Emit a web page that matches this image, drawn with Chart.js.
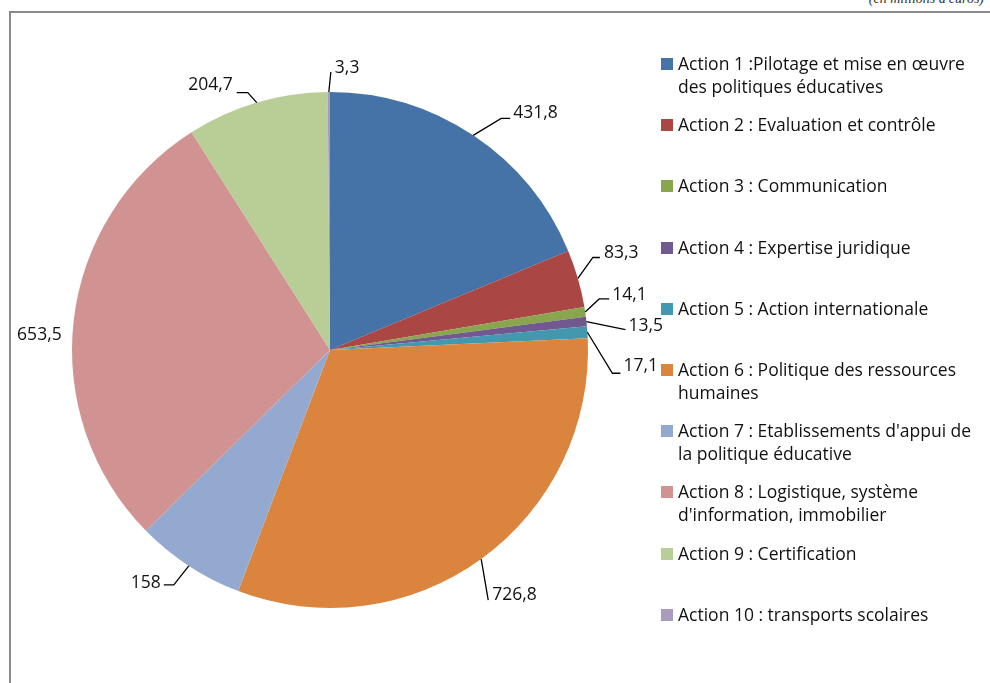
<!DOCTYPE html>
<html>
<head>
<meta charset="utf-8">
<script src="https://cdn.jsdelivr.net/npm/chart.js@4.4.1/dist/chart.umd.min.js"></script>
<style>
  body { margin: 0; background: #fff; width: 990px; height: 683px; overflow: hidden; position: relative; font-family: "Open Sans", sans-serif; font-variant-ligatures: none; }
  #frame { position: absolute; left: 9px; top: 11px; width: 990px; height: 700px; border-left: 2px solid #8a8a8a; border-top: 2px solid #8a8a8a; }
  #unit { position: absolute; right: 6px; top: -9px; font: italic 14px "Liberation Serif", serif; color: #333; }
  #chart { position: absolute; left: 0; top: 0; }
  #legend { position: absolute; left: 661px; top: 0; }
  .item { position: absolute; left: 0; width: 330px; font-size: 17.5px; line-height: 23px; color: #111; white-space: nowrap; }
  .sw { position: absolute; left: 0; top: 6px; width: 12px; height: 12px; }
  .txt { position: absolute; left: 17px; top: 0; }
</style>
</head>
<body>
<div id="frame"></div>
<div id="unit">(en millions d'euros)</div>
<canvas id="chart" width="990" height="683"></canvas>
<div id="legend"></div>
<script>
// categories (each one split as the legend wraps it)
const categories = [
  ['Action 1 :Pilotage et mise en œuvre', 'des politiques éducatives'],
  ['Action 2 : Evaluation et contrôle'],
  ['Action 3 : Communication'],
  ['Action 4 : Expertise juridique'],
  ['Action 5 : Action internationale'],
  ['Action 6 : Politique des ressources', 'humaines'],
  ["Action 7 : Etablissements d'appui de", 'la politique éducative'],
  ['Action 8 : Logistique, système', "d'information, immobilier"],
  ['Action 9 : Certification'],
  ['Action 10 : transports scolaires']
];
const values = [431.8, 83.3, 14.1, 13.5, 17.1, 726.8, 158, 653.5, 204.7, 3.3];
const valueLabels = ['431,8', '83,3', '14,1', '13,5', '17,1', '726,8', '158', '653,5', '204,7', '3,3'];
const colors = ['#4572A7', '#AA4643', '#89A54E', '#71588F', '#4198AF', '#DB843D', '#93A9CF', '#D19392', '#B9CD96', '#A99BBD'];

// leader line placement for each label: elbow offset from the arc, horizontal leg, text offset
const leaders = [
  {dx: 28, dy: -17, h: 9, tx: 3, ty: -5, align: 'left', line: true},
  {dx: 15, dy: -21, h: 7, tx: 4, ty: -4, align: 'left', line: true},
  {dx: 14, dy: -13, h: 10, tx: 3, ty: -4, align: 'left', line: true},
  {dx: 39, dy: 8, h: 0, tx: 3, ty: -4, align: 'left', line: true},
  {dx: 25, dy: 41, h: 8, tx: 3, ty: -7, align: 'left', line: true},
  {dx: 7, dy: 41, h: 0, tx: 4, ty: -5, align: 'left', line: true},
  {dx: -15, dy: 19, h: -10, tx: -3, ty: -2, align: 'right', line: true},
  {dx: -12, dy: 14, h: 0, tx: 0, ty: 0, align: 'right', line: false},
  {dx: -9, dy: -10, h: -11, tx: -4, ty: -8, align: 'right', line: true},
  {dx: 2, dy: -20, h: 0, tx: 4, ty: -4, align: 'left', line: true}
];

const leaderLabels = {
  id: 'leaderLabels',
  afterDatasetsDraw(chart) {
    const ctx = chart.ctx;
    const meta = chart.getDatasetMeta(0);
    ctx.save();
    ctx.font = '17.5px "Open Sans", sans-serif';
    ctx.fillStyle = '#111';
    ctx.strokeStyle = '#000';
    ctx.lineWidth = 1.3;
    ctx.textBaseline = 'middle';
    meta.data.forEach((arc, i) => {
      const p = arc.getProps(['x', 'y', 'startAngle', 'endAngle', 'outerRadius'], true);
      const a = (p.startAngle + p.endAngle) / 2;
      const x0 = p.x + Math.cos(a) * p.outerRadius;
      const y0 = p.y + Math.sin(a) * p.outerRadius;
      const L = leaders[i];
      const ex = x0 + L.dx, ey = y0 + L.dy;
      const hx = ex + L.h;
      if (L.line) {
        ctx.beginPath();
        ctx.moveTo(x0, y0);
        ctx.lineTo(ex, ey);
        ctx.lineTo(hx, ey);
        ctx.stroke();
      }
      ctx.textAlign = L.align;
      ctx.fillText(valueLabels[i], hx + L.tx, ey + L.ty);
    });
    ctx.restore();
  }
};

new Chart(document.getElementById('chart'), {
  type: 'pie',
  data: {
    labels: categories,
    datasets: [{
      data: values,
      backgroundColor: colors,
      borderWidth: 0,
      hoverOffset: 0
    }]
  },
  options: {
    responsive: false,
    animation: false,
    events: [],
    layout: { padding: { left: 72, top: 92, right: 402, bottom: 75 } },
    plugins: { legend: { display: false }, tooltip: { enabled: false } }
  },
  plugins: [leaderLabels]
});

// legend on the right
const legend = document.getElementById('legend');
categories.forEach((lines, i) => {
  const item = document.createElement('div');
  item.className = 'item';
  item.style.top = (52 + i * 61.2) + 'px';
  item.innerHTML = '<div class="sw" style="background:' + colors[i] + '"></div><div class="txt">' + lines.join('<br>') + '</div>';
  legend.appendChild(item);
});
</script>
</body>
</html>
